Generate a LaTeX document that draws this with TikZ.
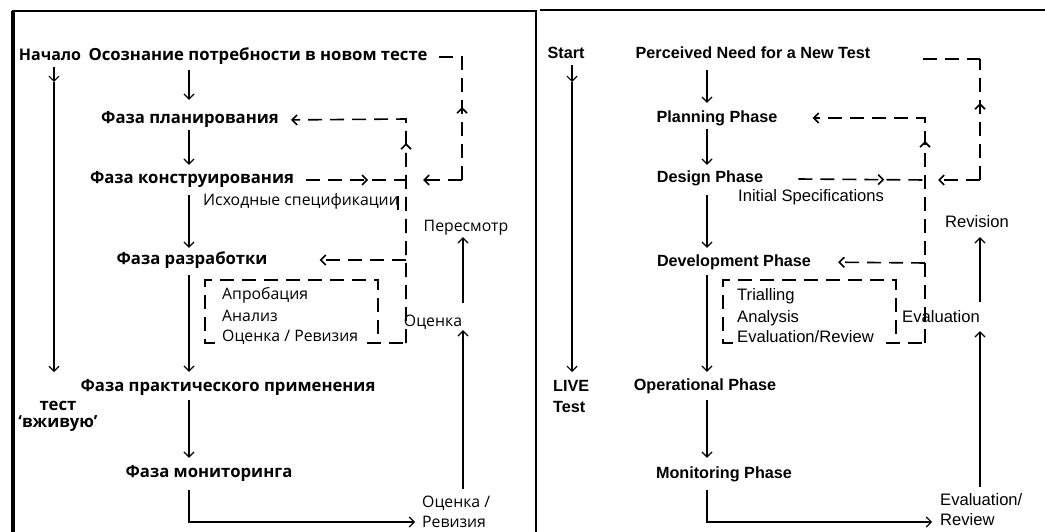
\documentclass[tikz,border=0pt]{standalone}
\usepackage{fontspec}
\setmainfont{Liberation Sans}
\newfontfamily\rus{Open Sans}
\usetikzlibrary{arrows.meta,decorations.markings}
\begin{document}
\begin{tikzpicture}[x=1pt,y=-1pt,
  tip/.tip={Straight Barb[length=5pt,width=10pt]},
  arr/.style={-tip, line width=1.2pt},
  sol/.style={line width=1.2pt},
  dsh/.style={line width=1.6pt, dash pattern=on 14pt off 8pt},
  darr/.style={dsh, -tip},
  marr/.style={postaction={decorate,decoration={markings,mark=at position #1 with {\arrow{tip}}}}},
  rph/.style={font=\rus\bfseries\fontsize{16.7}{19}\selectfont, inner sep=2pt, text height=12pt, text depth=4pt},
  rphm/.style={font=\rus\bfseries\fontsize{16.7}{17}\selectfont, inner sep=0pt, align=center},
  rtx/.style={font=\rus\fontsize{15.8}{18}\selectfont, inner sep=0pt, text height=11pt, text depth=3pt, anchor=west},
  rtxm/.style={font=\rus\fontsize{15.8}{20}\selectfont, inner sep=0pt, anchor=west, align=left},
  eph/.style={font=\bfseries\fontsize{16.2}{19}\selectfont, inner sep=2pt, text height=12pt, text depth=4pt},
  ephm/.style={font=\bfseries\fontsize{16.2}{21}\selectfont, inner sep=0pt, anchor=west, align=left},
  etx/.style={font=\fontsize{16.6}{19}\selectfont, inner sep=0pt, text height=11pt, text depth=3pt, anchor=west},
  etxm/.style={font=\fontsize{16.6}{20}\selectfont, inner sep=0pt, anchor=west, align=left},
  frame/.style={line width=1.5pt}
]
\useasboundingbox (0,0) rectangle (1045,532);
% frames
\draw[line width=4pt] (13,11) -- (13,532);
\draw[frame] (11.5,11) -- (536,11) -- (536,532);
\draw[frame] (540,10) -- (1045,10);

% ================= LEFT PANEL =================
\node[rph, font=\rus\bfseries\fontsize{16}{19}\selectfont] (L0) at (50,57) {Начало};
\node[rph] (L1) at (258,57) {Осознание потребности в новом тесте};
\node[rph] (L2) at (190,120) {Фаза планирования};
\node[rph] (L3) at (192,180) {Фаза конструирования};
\node[rph] (L4) at (192,260) {Фаза разработки};
\node[rph] (L5) at (228,387) {Фаза практического применения};
\node[rph] (L6) at (209,473) {Фаза мониторинга};
\node[rphm] (Llive) at (58,416) {тест\\‘вживую’};
\node[rtx] (Lspec) at (203,202) {Исходные спецификации};
\node[rtx,anchor=center] (Lrev) at (466,227) {Пересмотр};
\node[rtx,anchor=center] (Leval) at (433,322) {Оценка};
\node[rtxm] (Ler) at (422,512) {Оценка /\\Ревизия};
\node[rtx] (Lb1) at (222,295) {Апробация};
\node[rtx] (Lb2) at (222,317) {Анализ};
\node[rtx] (Lb3) at (222,337) {Оценка / Ревизия};

\coordinate (la) at (54,82);
\coordinate (la2) at (54,372);
\coordinate (lx) at (189,0);
\coordinate (lc1) at (462,57);
\coordinate (lc2) at (462,180);
\coordinate (lt1) at (423,180);
\coordinate (lc3) at (406,119);
\coordinate (lc4) at (406,343);
\coordinate (lc5) at (406,180);
\coordinate (lc6) at (406,260);
\coordinate (lb1) at (215,343);
\coordinate (lb2) at (205,343);
\coordinate (lb3) at (205,280);
\coordinate (lb4) at (378,280);
\coordinate (lb5) at (378,343);
\coordinate (lb6) at (367,343);
\coordinate (lm) at (189,522);
\coordinate (le) at (463,0);

\draw[arr] (L0.south -| la) -- (la);
\draw[arr] (la) -- (la2);
\draw[arr, shorten <=3pt, shorten >=10pt] (L1.south -| lx) -- (L2.north -| lx);
\draw[arr, shorten >=5pt] (L2.south -| lx) -- (L3.north -| lx);
\draw[arr, shorten <=5pt, shorten >=2pt] (L3.south -| lx) -- (L4.north -| lx);
\draw[arr, shorten <=5pt, shorten >=5pt] (L4.south -| lx) -- (L5.north -| lx);
\draw[arr, shorten <=3pt, shorten >=5pt] (L5.south -| lx) -- (L6.north -| lx);
\draw[arr, shorten <=7pt, shorten >=7pt] (L6.south -| lx) -- (lm) -- (Ler.west |- lm);
\draw[arr, shorten <=7pt, shorten >=1pt] (Ler.north -| le) -- (Leval.south -| le);
\draw[arr, shorten <=12pt, shorten >=3pt] (Leval.north -| le) -- (Lrev.south -| le);
\draw[sol] (398,196) -- (398,210);

\draw[dsh, marr=73pt, shorten >=5pt] (lc2) -- (lc1) -- (L1.east);
\draw[darr] (lc2) -- (lt1);
\draw[darr, marr=200pt, shorten >=10pt] (lc4) -- (lc3) -- (L2.east);
\draw[dsh, marr=62pt] ([xshift=10pt]L3.east) -- (lc5);
\draw[darr, shorten >=50pt] (lc6) -- (L4.east);
\draw[dsh] (lb1) -- (lb2) -- (lb3) -- (lb4) -- (lb5);
\draw[dsh] (lb6) -- (lc4);

% ================= RIGHT PANEL =================
\node[eph] (R0) at (566,55) {Start};
\node[eph] (R1) at (753,55) {Perceived Need for a New Test};
\node[eph] (R2) at (717,119) {Planning Phase};
\node[eph] (R3) at (710,179) {Design Phase};
\node[eph] (R4) at (734,262) {Development Phase};
\node[eph] (R5) at (705,386) {Operational Phase};
\node[eph] (R6) at (724,474) {Monitoring Phase};
\node[ephm] (Rlive) at (553,397) {LIVE\\Test};
\node[etx] (Rspec) at (738,198) {Initial Specifications};
\node[etx,anchor=center] (Rrev) at (977,224) {Revision};
\node[etx,anchor=center] (Reval) at (941,318) {Evaluation};
\node[etxm] (Rer) at (940,510) {Evaluation/\\Review};
\node[etx] (Rb1) at (737,296) {Trialling};
\node[etx] (Rb2) at (737,318) {Analysis};
\node[etx] (Rb3) at (737,338) {Evaluation/Review};

\coordinate (ra) at (572,82);
\coordinate (ra2) at (572,372);
\coordinate (rx) at (707,0);
\coordinate (rc1) at (980,59);
\coordinate (rc2) at (980,180);
\coordinate (rt1) at (938,180);
\coordinate (rc3) at (925,118);
\coordinate (rc4) at (925,343);
\coordinate (rc5) at (925,180);
\coordinate (rc6) at (925,263);
\coordinate (rb1) at (733,343);
\coordinate (rb2) at (723,343);
\coordinate (rb3) at (723,280);
\coordinate (rb4) at (896,280);
\coordinate (rb5) at (896,343);
\coordinate (rb6) at (886,343);
\coordinate (rm) at (707,522);
\coordinate (re) at (980,0);

\draw[arr] (R0.south -| ra) -- (ra);
\draw[arr] (ra) -- (ra2);
\draw[arr, shorten <=5pt, shorten >=6pt] (R1.south -| rx) -- (R2.north -| rx);
\draw[arr, shorten >=4pt] (R2.south -| rx) -- (R3.north -| rx);
\draw[arr, shorten <=6pt, shorten >=4pt] (R3.south -| rx) -- (R4.north -| rx);
\draw[arr, shorten <=3pt, shorten >=4pt] (R4.south -| rx) -- (R5.north -| rx);
\draw[arr, shorten <=4pt, shorten >=6pt] (R5.south -| rx) -- (R6.north -| rx);
\draw[arr, shorten <=6pt, shorten >=8pt] (R6.south -| rx) -- (rm) -- (Rer.west |- rm);
\draw[arr, shorten <=7pt, shorten >=6pt] (Rer.north -| re) -- (Reval.south -| re);
\draw[arr, shorten <=9pt, shorten >=6pt] (Reval.north -| re) -- (Rrev.south -| re);

\draw[dsh, shorten <=50pt] (rc1 -| R1.east) -- (rc1);
\draw[dsh, marr=77pt] (rc2) -- (rc1);
\draw[darr] (rc2) -- (rt1);
\draw[darr, marr=202pt, shorten >=33pt] (rc4) -- (rc3) -- (rc3 -| R2.east);
\draw[dsh, marr=86pt] ([xshift=33pt]R3.east) -- (rc5);
\draw[darr, shorten >=25pt] (rc6) -- (R4.east);
\draw[dsh] (rb1) -- (rb2) -- (rb3) -- (rb4) -- (rb5);
\draw[dsh] (rb6) -- (rc4);
\end{tikzpicture}
\end{document}
